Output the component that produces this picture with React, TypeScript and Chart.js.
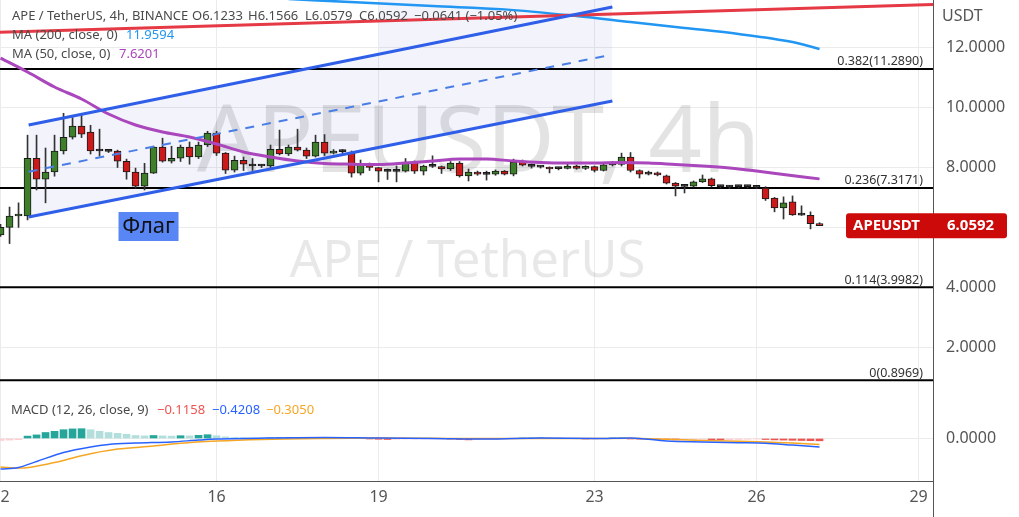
import React, { useEffect, useRef } from 'react';
import { Chart, registerables } from 'chart.js';

Chart.register(...registerables);

const FONT = '"Noto Sans", "DejaVu Sans", sans-serif';

// ---- time axis ----
const startDay = 12;
const candlesPerDay = 6;
const dayTicks = [12, 16, 19, 23, 26, 29];
const X_MIN = 11.99;
const X_MAX = 29.268;

// ---- price axis ----
const priceTicks = [2, 4, 6, 8, 10, 12];
const Y_MIN = 0.504;
const Y_MAX = 13.593;

// ---- 4h candles ----
const opens = [5.75, 6.0, 6.38, 6.38, 8.31, 7.61, 7.85, 8.55, 9.01, 9.38, 9.18, 8.56, 8.55, 8.55, 8.21, 7.85, 7.38, 7.81, 8.68, 8.21, 8.31, 8.68, 8.35, 8.75, 9.15, 8.48, 7.91, 8.24, 8.06, 8.05, 8.05, 8.61, 8.45, 8.68, 8.58, 8.38, 8.85, 8.48, 8.54, 8.48, 7.81, 8.09, 8.0, 7.88, 7.87, 7.88, 8.18, 7.88, 8.05, 8.03, 7.95, 8.15, 7.72, 7.85, 7.78, 7.78, 7.88, 7.78, 8.21, 8.05, 8.02, 8.0, 7.97, 7.97, 8.05, 7.97, 8.03, 7.9, 8.1, 8.1, 8.35, 7.9, 7.79, 7.82, 7.72, 7.48, 7.38, 7.38, 7.52, 7.62, 7.37, 7.36, 7.36, 7.37, 7.35, 7.31, 6.98, 6.65, 6.85, 6.42, 6.4, 6.1233];
const highs = [6.1, 6.68, 6.82, 9.08, 9.08, 8.65, 9.08, 9.81, 9.67, 9.74, 9.41, 9.28, 8.6, 8.58, 8.28, 7.98, 8.14, 8.71, 8.98, 8.71, 8.75, 8.85, 8.85, 9.21, 9.21, 8.5, 8.38, 8.35, 8.3, 8.1, 8.75, 9.25, 8.75, 9.28, 8.65, 9.08, 9.1, 8.6, 8.6, 8.55, 8.25, 8.15, 8.0, 7.95, 8.05, 8.3, 8.22, 8.08, 8.39, 8.05, 8.2, 8.2, 7.95, 7.88, 7.88, 7.92, 7.9, 8.28, 8.25, 8.12, 8.06, 8.02, 8.0, 8.15, 8.08, 8.06, 8.05, 8.12, 8.2, 8.48, 8.5, 7.92, 7.88, 7.85, 7.75, 7.5, 7.4, 7.55, 7.75, 7.65, 7.4, 7.4, 7.4, 7.4, 7.37, 7.36, 7.0, 7.02, 7.05, 6.72, 6.52, 6.1566];
const lows = [5.7, 5.46, 6.0, 6.25, 7.25, 6.82, 7.71, 8.45, 8.95, 9.0, 8.45, 8.38, 8.5, 8.0, 7.61, 7.31, 7.25, 7.8, 8.18, 8.15, 8.2, 8.11, 8.3, 8.7, 8.4, 7.8, 7.85, 7.9, 7.9, 8.0, 7.98, 8.42, 8.4, 8.55, 8.3, 8.35, 8.4, 8.45, 8.48, 7.68, 7.75, 7.9, 7.52, 7.6, 7.52, 7.85, 7.8, 7.75, 8.0, 7.8, 7.9, 7.68, 7.55, 7.74, 7.58, 7.74, 7.75, 7.72, 8.05, 7.98, 7.98, 7.82, 7.92, 7.95, 7.94, 7.93, 7.85, 7.88, 8.05, 8.05, 7.85, 7.65, 7.75, 7.72, 7.45, 7.05, 7.15, 7.35, 7.5, 7.35, 7.32, 7.3, 7.32, 7.32, 7.3, 6.9, 6.52, 6.28, 6.4, 6.4, 5.95, 6.0579];
const closes = [6.0, 6.38, 6.42, 8.31, 7.61, 7.85, 8.55, 9.01, 9.38, 9.11, 8.55, 8.55, 8.54, 8.21, 7.85, 7.38, 7.81, 8.68, 8.21, 8.31, 8.68, 8.35, 8.75, 9.15, 8.48, 7.91, 8.24, 8.11, 8.05, 8.06, 8.61, 8.45, 8.68, 8.58, 8.38, 8.85, 8.48, 8.55, 8.53, 7.81, 8.09, 8.0, 7.88, 7.87, 7.88, 8.18, 7.88, 8.05, 8.04, 7.95, 8.15, 7.72, 7.85, 7.78, 7.77, 7.88, 7.78, 8.18, 8.08, 8.04, 8.01, 7.95, 7.96, 8.05, 7.97, 8.03, 7.9, 8.09, 8.09, 8.35, 7.9, 7.78, 7.78, 7.75, 7.48, 7.38, 7.37, 7.52, 7.62, 7.39, 7.36, 7.35, 7.37, 7.36, 7.34, 6.95, 6.65, 6.82, 6.42, 6.41, 6.1233, 6.0592];

// ---- moving averages (candle index -> value) ----
const ma50Idx = [0, 3, 6, 9, 12, 15, 18, 21, 24, 27, 30, 33, 36, 39, 42, 45, 48, 51, 54, 57, 60, 63, 66, 69, 72, 75, 78, 81, 84, 87, 91];
const ma50Vals = [11.656, 11.189, 10.688, 10.287, 9.786, 9.419, 9.185, 9.018, 8.785, 8.518, 8.351, 8.217, 8.134, 8.11, 8.1, 8.15, 8.217, 8.284, 8.284, 8.217, 8.167, 8.15, 8.15, 8.167, 8.15, 8.1, 8.05, 7.983, 7.883, 7.766, 7.6201];
const ma200Idx = [32, 40, 48, 56, 64, 70, 76, 82, 88, 91];
const ma200Vals = [13.626, 13.51, 13.39, 13.28, 13.06, 12.86, 12.66, 12.46, 12.19, 11.9594];

// ---- drawn lines (day -> price) ----
const redLineDays = [11.99, 29.268];
const redLineVals = [12.52, 13.44];
const flagUpperDays = [12.52, 23.33];
const flagUpperVals = [9.42, 13.36];
const flagLowerDays = [12.52, 23.33];
const flagLowerVals = [6.35, 10.22];
const flagMidDays = [12.52, 23.3];
const flagMidVals = [7.86, 11.76];
const flagBandDays = [19, 23.33];
const flagBandVals = [11.78, 13.36];
const flagLabelDay = 14.185;
const flagLabelPrice = 6.514;
const flagLabelText = 'Флаг';

// ---- fibonacci levels ----
const fibRatios = ['0.382', '0.236', '0.114', '0'];
const fibLevels = [11.289, 7.3171, 3.9982, 0.8969];

// ---- MACD ----
const macdHist = [-0.10, -0.08, -0.06, 0.12, 0.18, 0.30, 0.36, 0.44, 0.48, 0.49, 0.44, 0.36, 0.30, 0.26, 0.21, 0.15, 0.13, 0.15, 0.13, 0.12, 0.14, 0.13, 0.16, 0.19, 0.14, 0.08, 0.05, 0.04, 0.03, 0.02, 0.03, 0.04, 0.05, 0.06, 0.05, 0.06, 0.05, 0.04, 0.05, 0.02, 0.00, -0.02, -0.04, -0.05, -0.04, -0.03, -0.03, -0.02, -0.02, -0.01, -0.03, -0.05, -0.07, -0.06, -0.05, -0.04, -0.03, -0.01, 0.01, 0.02, 0.03, 0.02, 0.01, 0.00, 0.00, -0.01, -0.01, 0.00, 0.01, 0.02, -0.01, -0.03, -0.04, -0.05, -0.06, -0.07, -0.06, -0.05, -0.04, -0.06, -0.07, -0.06, -0.05, -0.04, -0.03, -0.05, -0.07, -0.08, -0.09, -0.10, -0.11, -0.1158];
const macdIdx = [0, 2, 4, 7, 10, 12, 15, 19, 22, 24, 30, 36, 42, 48, 54, 60, 66, 70, 74, 78, 82, 85, 88, 91];
const macdVals = [-1.53, -1.45, -1.15, -0.70, -0.42, -0.30, -0.23, -0.17, -0.08, -0.03, 0.03, 0.05, 0.02, 0.0, -0.03, 0.02, 0.0, 0.03, -0.12, -0.17, -0.21, -0.24, -0.33, -0.4208];
const signalIdx = [0, 2, 6, 9, 13, 17, 20, 24, 29, 36, 42, 48, 54, 60, 66, 70, 74, 78, 82, 85, 88, 91];
const signalVals = [-1.43, -1.48, -1.20, -0.86, -0.53, -0.38, -0.24, -0.13, -0.05, 0.0, 0.02, 0.01, 0.0, 0.0, 0.0, 0.01, -0.04, -0.10, -0.14, -0.17, -0.23, -0.305];
const MACD_MIN = -2.125;
const MACD_MAX = 2.325;

// ---- text ----
const symbolTitle = 'APE / TetherUS, 4h, BINANCE';
const watermarkMain = 'APEUSDT, 4h';
const watermarkSub = 'APE / TetherUS';
const priceUnit = 'USDT';
const tickerName = 'APEUSDT';
const ma200Label = 'MA (200, close, 0)';
const ma50Label = 'MA (50, close, 0)';
const macdLabel = 'MACD (12, 26, close, 9)';

// ---- styles ----
const GRID = '#ebebeb';
const AXIS_TEXT = '#555';
const LEGEND_TEXT = '#4a4a4a';
const UP = '#3f7f2b';
const DOWN = '#cc1a1a';
const DOJI = '#222';
const CHANNEL = '#2f5fe8';
const FILL = 'rgba(76,80,200,0.07)';

const dayOf = (k: number) => startDay + k / candlesPerDay;
const pts = (days: number[], vals: number[]) => days.map((d, i) => ({ x: d, y: vals[i] }));
const idxPts = (idx: number[], vals: number[]) => idx.map((k, i) => ({ x: dayOf(k), y: vals[i] }));
const fmt = (v: number) => (v < 0 ? '\u2212' : '') + Math.abs(v).toFixed(4);

const xScaleBase = (showTicks: boolean, height: number, borderColor: string) => ({
  type: 'linear',
  min: X_MIN,
  max: X_MAX,
  offset: false,
  position: 'bottom',
  grid: { color: GRID, drawTicks: false, offset: false },
  border: { display: true, color: borderColor },
  ticks: {
    display: showTicks,
    autoSkip: false,
    maxRotation: 0,
    padding: 7,
    color: AXIS_TEXT,
    font: { family: FONT, size: 16 },
    callback: (v: number) => String(v),
  },
  afterBuildTicks: (s: any) => {
    s.ticks = dayTicks.map((v) => ({ value: v }));
  },
  afterFit: (s: any) => {
    s.height = height;
    s.paddingLeft = 0;
    s.paddingRight = 0;
  },
});

const yScaleBase = (min: number, max: number, tickValues: number[]) => ({
  type: 'linear',
  position: 'right',
  min,
  max,
  grid: { color: GRID, drawTicks: false },
  border: { display: true, color: '#555' },
  ticks: {
    padding: 13,
    color: AXIS_TEXT,
    font: { family: FONT, size: 16 },
    callback: (v: number) => Number(v).toFixed(4),
  },
  afterBuildTicks: (s: any) => {
    s.ticks = tickValues.map((v) => ({ value: v }));
  },
  afterFit: (s: any) => {
    s.width = 86;
    s.paddingTop = 0;
    s.paddingBottom = 0;
  },
});

const mainOverlay = {
  id: 'mainOverlay',
  beforeDatasetsDraw(chart: any) {
    const { ctx, chartArea: a } = chart;
    ctx.save();
    ctx.beginPath();
    ctx.rect(a.left, a.top, a.right - a.left, a.bottom - a.top);
    ctx.clip();
    const cx = (a.left + a.right) / 2;
    ctx.textAlign = 'center';
    ctx.textBaseline = 'alphabetic';
    ctx.fillStyle = 'rgba(0,0,0,0.11)';
    ctx.font = `94px ${FONT}`;
    ctx.fillText(watermarkMain, cx + 12, 172);
    ctx.fillStyle = 'rgba(0,0,0,0.09)';
    ctx.font = `51px ${FONT}`;
    ctx.fillText(watermarkSub, cx + 1, 277);
    ctx.restore();
  },
  afterDatasetsDraw(chart: any) {
    const { ctx, chartArea: a, scales } = chart;
    const xs = scales.x;
    const ys = scales.y;
    ctx.save();
    // fib labels
    ctx.font = `12.5px ${FONT}`;
    ctx.fillStyle = '#333';
    ctx.textAlign = 'right';
    ctx.textBaseline = 'bottom';
    fibLevels.forEach((lv, i) => {
      const y = ys.getPixelForValue(lv);
      ctx.fillText(`${fibRatios[i]}(${lv.toFixed(4)})`, a.right - 10, y - 1);
    });
    // flag label
    const fx = xs.getPixelForValue(flagLabelDay);
    const fy = ys.getPixelForValue(flagLabelPrice);
    ctx.fillStyle = '#5886f5';
    ctx.fillRect(fx, fy, 60, 29);
    ctx.fillStyle = '#111';
    ctx.font = `22px ${FONT}`;
    ctx.textAlign = 'center';
    ctx.textBaseline = 'middle';
    ctx.fillText(flagLabelText, fx + 30, fy + 15);
    ctx.restore();
  },
  afterDraw(chart: any) {
    const { ctx, chartArea: a, scales } = chart;
    const ys = scales.y;
    const last = closes.length - 1;
    ctx.save();
    // legend
    ctx.textBaseline = 'middle';
    ctx.textAlign = 'left';
    ctx.font = `13px ${FONT}`;
    ctx.fillStyle = LEGEND_TEXT;
    ctx.fillText(symbolTitle, 12, 16.5);
    const chg = closes[last] - closes[last - 1];
    const pct = (chg / closes[last - 1]) * 100;
    const ohlc = [
      ['O' + opens[last].toFixed(4), 192],
      ['H' + highs[last].toFixed(4), 248],
      ['L' + lows[last].toFixed(4), 305],
      ['C' + closes[last].toFixed(4), 359],
      [`${fmt(chg)} (${pct < 0 ? '\u2212' : ''}${Math.abs(pct).toFixed(2)}%)`, 414],
    ];
    ohlc.forEach(([t, x]) => ctx.fillText(t as string, x as number, 16.5));
    ctx.fillText(ma200Label, 12, 35.5);
    ctx.fillText(ma50Label, 12, 54.5);
    ctx.fillStyle = '#2196f3';
    ctx.fillText(ma200Vals[ma200Vals.length - 1].toFixed(4), 126, 35.5);
    ctx.fillStyle = '#ab47bc';
    ctx.fillText(ma50Vals[ma50Vals.length - 1].toFixed(4), 119, 54.5);
    // unit
    ctx.fillStyle = AXIS_TEXT;
    ctx.font = `16px ${FONT}`;
    ctx.fillText(priceUnit, a.right + 9, 16);
    // price label
    const py = ys.getPixelForValue(closes[last]);
    const h = 25;
    const x0 = a.right - 87;
    const w = 161;
    ctx.fillStyle = '#cc0a0a';
    ctx.beginPath();
    ctx.roundRect(x0, py - h / 2, w, h, 3);
    ctx.fill();
    ctx.fillStyle = '#fff';
    ctx.font = `bold 15px ${FONT}`;
    ctx.fillText(tickerName, x0 + 7, py + 0.5);
    ctx.fillText(closes[last].toFixed(4), a.right + 14, py + 0.5);
    ctx.restore();
  },
};

const macdOverlay = {
  id: 'macdOverlay',
  afterDraw(chart: any) {
    const { ctx, chartArea: a } = chart;
    ctx.save();
    ctx.textBaseline = 'middle';
    ctx.textAlign = 'left';
    ctx.font = `13px ${FONT}`;
    ctx.fillStyle = LEGEND_TEXT;
    ctx.fillText(macdLabel, 11, 18);
    ctx.fillStyle = '#ef5350';
    ctx.fillText(fmt(macdHist[macdHist.length - 1]), 157, 18);
    ctx.fillStyle = '#2962ff';
    ctx.fillText(fmt(macdVals[macdVals.length - 1]), 212, 18);
    ctx.fillStyle = '#f5a623';
    ctx.fillText(fmt(signalVals[signalVals.length - 1]), 266, 18);
    // axis line continues through the time scale row
    ctx.strokeStyle = '#555';
    ctx.lineWidth = 1;
    ctx.beginPath();
    ctx.moveTo(Math.round(a.right) + 0.5, a.bottom);
    ctx.lineTo(Math.round(a.right) + 0.5, chart.height);
    ctx.stroke();
    ctx.restore();
  },
};

function buildMain(canvas: HTMLCanvasElement) {
  const bodies = opens.map((o, i) => ({ x: dayOf(i), y: [o, closes[i]] }));
  const wicks = lows.map((l, i) => ({ x: dayOf(i), y: [l, highs[i]] }));
  const bodyColors = opens.map((o, i) =>
    Math.abs(closes[i] - o) < 0.015 ? DOJI : closes[i] > o ? UP : DOWN
  );
  const line = (data: any[], color: string, width: number, order: number, extra: any = {}) => ({
    type: 'line',
    data,
    borderColor: color,
    borderWidth: width,
    pointRadius: 0,
    fill: false,
    order,
    clip: 0,
    ...extra,
  });
  const fibSets = fibLevels.map((lv) =>
    line([{ x: X_MIN, y: lv }, { x: X_MAX, y: lv }], '#000', 2, 8)
  );
  return new Chart(canvas, {
    type: 'bar',
    data: {
      datasets: [
        line(pts(flagUpperDays, flagUpperVals), CHANNEL, 3, 1, { fill: { target: '+1' }, backgroundColor: FILL }),
        line(pts(flagLowerDays, flagLowerVals), CHANNEL, 3, 1),
        line(pts(flagMidDays, flagMidVals), '#4a7ee6', 2, 1, { borderDash: [9, 8] }),
        line(pts(flagBandDays, flagBandVals), 'rgba(0,0,0,0)', 0, 9, { fill: 'end', backgroundColor: FILL }),
        line(pts(redLineDays, redLineVals), '#e53945', 3, 2),
        line(idxPts(ma200Idx, ma200Vals), '#2196f3', 2.5, 3, { cubicInterpolationMode: 'monotone' }),
        line(idxPts(ma50Idx, ma50Vals), '#ab47bc', 3, 4, { cubicInterpolationMode: 'monotone' }),
        {
          type: 'bar',
          data: bodies,
          backgroundColor: bodyColors,
          borderColor: '#1a1a1a',
          borderWidth: 1,
          borderSkipped: false,
          barThickness: 7,
          minBarLength: 2,
          grouped: false,
          order: 5,
          clip: 0,
        },
        {
          type: 'bar',
          data: wicks,
          backgroundColor: '#333',
          borderWidth: 0,
          barThickness: 1,
          grouped: false,
          order: 6,
          clip: 0,
        },
        ...fibSets,
      ],
    } as any,
    options: {
      animation: false,
      responsive: false,
      maintainAspectRatio: false,
      events: [],
      layout: { padding: 0 },
      plugins: {
        legend: { display: false },
        tooltip: { enabled: false },
        filler: { drawTime: 'beforeDatasetsDraw', propagate: false },
      },
      scales: {
        x: xScaleBase(false, 0, '#d6d6d6'),
        y: yScaleBase(Y_MIN, Y_MAX, priceTicks),
      },
    } as any,
    plugins: [mainOverlay],
  });
}

function buildMacd(canvas: HTMLCanvasElement) {
  const histColors = macdHist.map((v, i) => {
    const prev = i > 0 ? macdHist[i - 1] : v - 0.01;
    if (v >= 0) return v >= prev ? '#26a69a' : '#b2dfdb';
    return v < prev ? '#ef5350' : '#ffcdd2';
  });
  return new Chart(canvas, {
    type: 'bar',
    data: {
      datasets: [
        {
          type: 'line',
          data: idxPts(macdIdx, macdVals),
          borderColor: '#2962ff',
          borderWidth: 1.5,
          pointRadius: 0,
          cubicInterpolationMode: 'monotone',
          order: 1,
          clip: 0,
        },
        {
          type: 'line',
          data: idxPts(signalIdx, signalVals),
          borderColor: '#f5a623',
          borderWidth: 1.5,
          pointRadius: 0,
          cubicInterpolationMode: 'monotone',
          order: 2,
          clip: 0,
        },
        {
          type: 'bar',
          data: macdHist.map((v, i) => ({ x: dayOf(i), y: v })),
          backgroundColor: histColors,
          borderWidth: 0,
          barThickness: 7,
          grouped: false,
          order: 3,
          clip: 0,
        },
      ],
    } as any,
    options: {
      animation: false,
      responsive: false,
      maintainAspectRatio: false,
      events: [],
      layout: { padding: 0 },
      plugins: { legend: { display: false }, tooltip: { enabled: false } },
      scales: {
        x: xScaleBase(true, 36, '#555'),
        y: yScaleBase(MACD_MIN, MACD_MAX, [0]),
      },
    } as any,
    plugins: [macdOverlay],
  });
}

export default function App() {
  const mainRef = useRef<HTMLCanvasElement>(null);
  const macdRef = useRef<HTMLCanvasElement>(null);
  useEffect(() => {
    const c1 = buildMain(mainRef.current!);
    const c2 = buildMacd(macdRef.current!);
    return () => {
      c1.destroy();
      c2.destroy();
    };
  }, []);
  return (
    <div style={{ position: 'fixed', left: 0, top: 0, width: 1019, height: 517, background: '#fff', overflow: 'hidden' }}>
      <canvas ref={mainRef} width={1019} height={392} style={{ position: 'absolute', left: 0, top: 0, display: 'block' }} />
      <canvas ref={macdRef} width={1019} height={125} style={{ position: 'absolute', left: 0, top: 392, display: 'block' }} />
    </div>
  );
}
